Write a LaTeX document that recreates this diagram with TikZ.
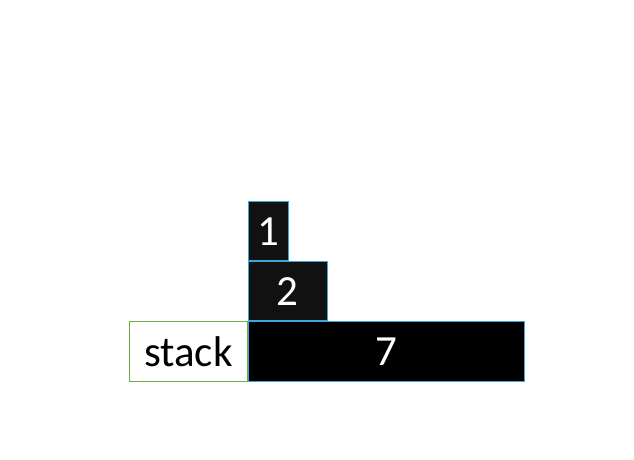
\documentclass[tikz,border=0pt]{standalone}
\usepackage{fontspec}
\setmainfont{Carlito}
\usetikzlibrary{positioning}
\definecolor{stackgreen}{RGB}{112,173,71}
\definecolor{cellblue}{RGB}{65,165,215}
\definecolor{celldark}{RGB}{17,17,17}
\tikzset{
	label box/.style={draw=stackgreen, line width=0.8pt, fill=white, inner sep=0pt, font=\fontsize{43}{45}\selectfont},
	cell/.style={draw=cellblue, line width=0.8pt, fill=black, text=white, inner sep=0pt, font=\fontsize{43}{45}\selectfont, minimum height=59pt}
}
\begin{document}
\begin{tikzpicture}
	[
	x=1pt, y=1pt
	]
	%Rahmen
	\useasboundingbox (0,0) rectangle (634,-460);
	
	%Stapel
	\node[label box, minimum width=118pt, minimum height=60pt, anchor=north west] (stack) at (129,-321) {stack};
	\node[cell, minimum width=276pt, minimum height=60pt, right=0pt of stack] (seven) {7};
	\node[cell, fill=celldark, minimum width=79pt, anchor=south west] (two) at (seven.north west) {2};
	\node[cell, fill=celldark, minimum width=40pt, anchor=south west] (one) at (two.north west) {1};
\end{tikzpicture}
\end{document}
